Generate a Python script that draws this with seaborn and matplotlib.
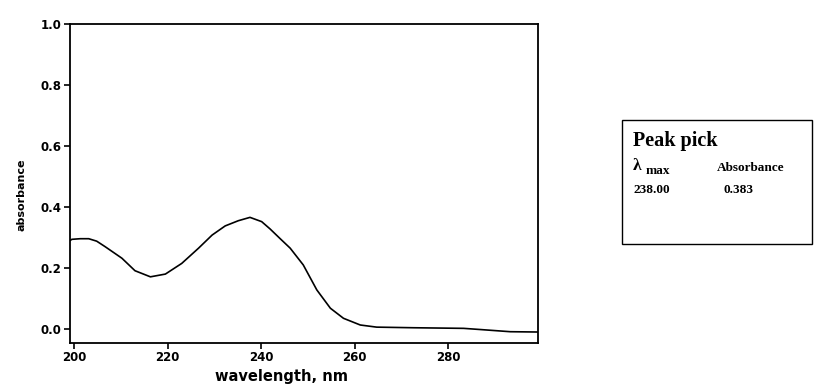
import numpy as np
import pandas as pd
import matplotlib
matplotlib.use("Agg")
import matplotlib.pyplot as plt
import seaborn as sns
from matplotlib.patches import Rectangle

# spectrum
wavelength = [199.1, 199.5, 201.3, 203.1, 204.8, 206.6, 210.2, 213.0, 216.3, 219.5,
              223.0, 226.6, 229.5, 232.3, 235.1, 237.6, 240.1, 241.9, 244.0, 246.2,
              249.0, 251.9, 254.8, 257.6, 261.2, 264.7, 272.6, 283.3, 287.0, 293.3,
              299.2]
absorbance = [0.290, 0.294, 0.296, 0.296, 0.288, 0.270, 0.232, 0.191, 0.171, 0.180,
              0.215, 0.265, 0.308, 0.338, 0.355, 0.366, 0.352, 0.328, 0.297, 0.265,
              0.210, 0.128, 0.068, 0.035, 0.013, 0.006, 0.004, 0.002, -0.002, -0.009,
              -0.010]
yticks = [0.0, 0.2, 0.4, 0.6, 0.8, 1.0]
xticks = [200, 220, 240, 260, 280]
peak_wl = "238.00"
peak_abs = "0.383"

df = pd.DataFrame({"wavelength": wavelength, "absorbance": absorbance})

sns.set_style("ticks")
plt.rcParams["font.family"] = ["DejaVu Sans"]
plt.rcParams["text.color"] = "black"
plt.rcParams["axes.labelcolor"] = "black"

fig = plt.figure(figsize=(8.18, 3.88), dpi=100)
ax = fig.add_axes([0.0856, 0.116, 0.572, 0.822])
sns.lineplot(data=df, x="wavelength", y="absorbance", color="black", linewidth=1.2, ax=ax)

ax.set_xlim(199.1, 299.2)
ax.set_ylim(-0.046, 1.0)
ax.set_xticks(xticks)
ax.set_yticks(yticks)
ax.set_yticklabels([f"{v:.1f}" for v in yticks], fontweight="bold", fontsize=8.5)
ax.set_xticklabels([str(v) for v in xticks], fontweight="bold", fontsize=8.5)
ax.set_xlabel("wavelength, nm", fontweight="bold", fontsize=10.5)
ax.set_ylabel("absorbance", fontweight="bold", fontsize=8)
ax.xaxis.set_label_coords(0.453, -0.082)
ax.yaxis.set_label_coords(-0.094, 0.464)
for s in ax.spines.values():
    s.set_linewidth(1.3)
    s.set_color("black")
ax.tick_params(direction="out", length=4, width=1.2, colors="black", pad=2)

# peak pick box
fig.patches.append(Rectangle((0.760, 0.371), 0.233, 0.320, transform=fig.transFigure,
                             fill=False, edgecolor="black", linewidth=1.0))
serif = ["Liberation Serif", "DejaVu Serif"]
fig.text(633 / 818, 1 - 146 / 388, "Peak pick", family=serif, fontweight="bold", fontsize=14.5)
fig.text(633 / 818, 1 - 170 / 388, "λ", family=serif, fontweight="bold", fontsize=12.5)
fig.text(646 / 818, 1 - 174 / 388, "max", family=serif, fontweight="bold", fontsize=9.5)
fig.text(717 / 818, 1 - 171 / 388, "Absorbance", family=serif, fontweight="bold", fontsize=9.5)
fig.text(634 / 818, 1 - 193 / 388, peak_wl, family=serif, fontweight="bold", fontsize=9.5)
fig.text(723 / 818, 1 - 193 / 388, peak_abs, family=serif, fontweight="bold", fontsize=9.5)

fig.savefig("out.png", dpi=100)
